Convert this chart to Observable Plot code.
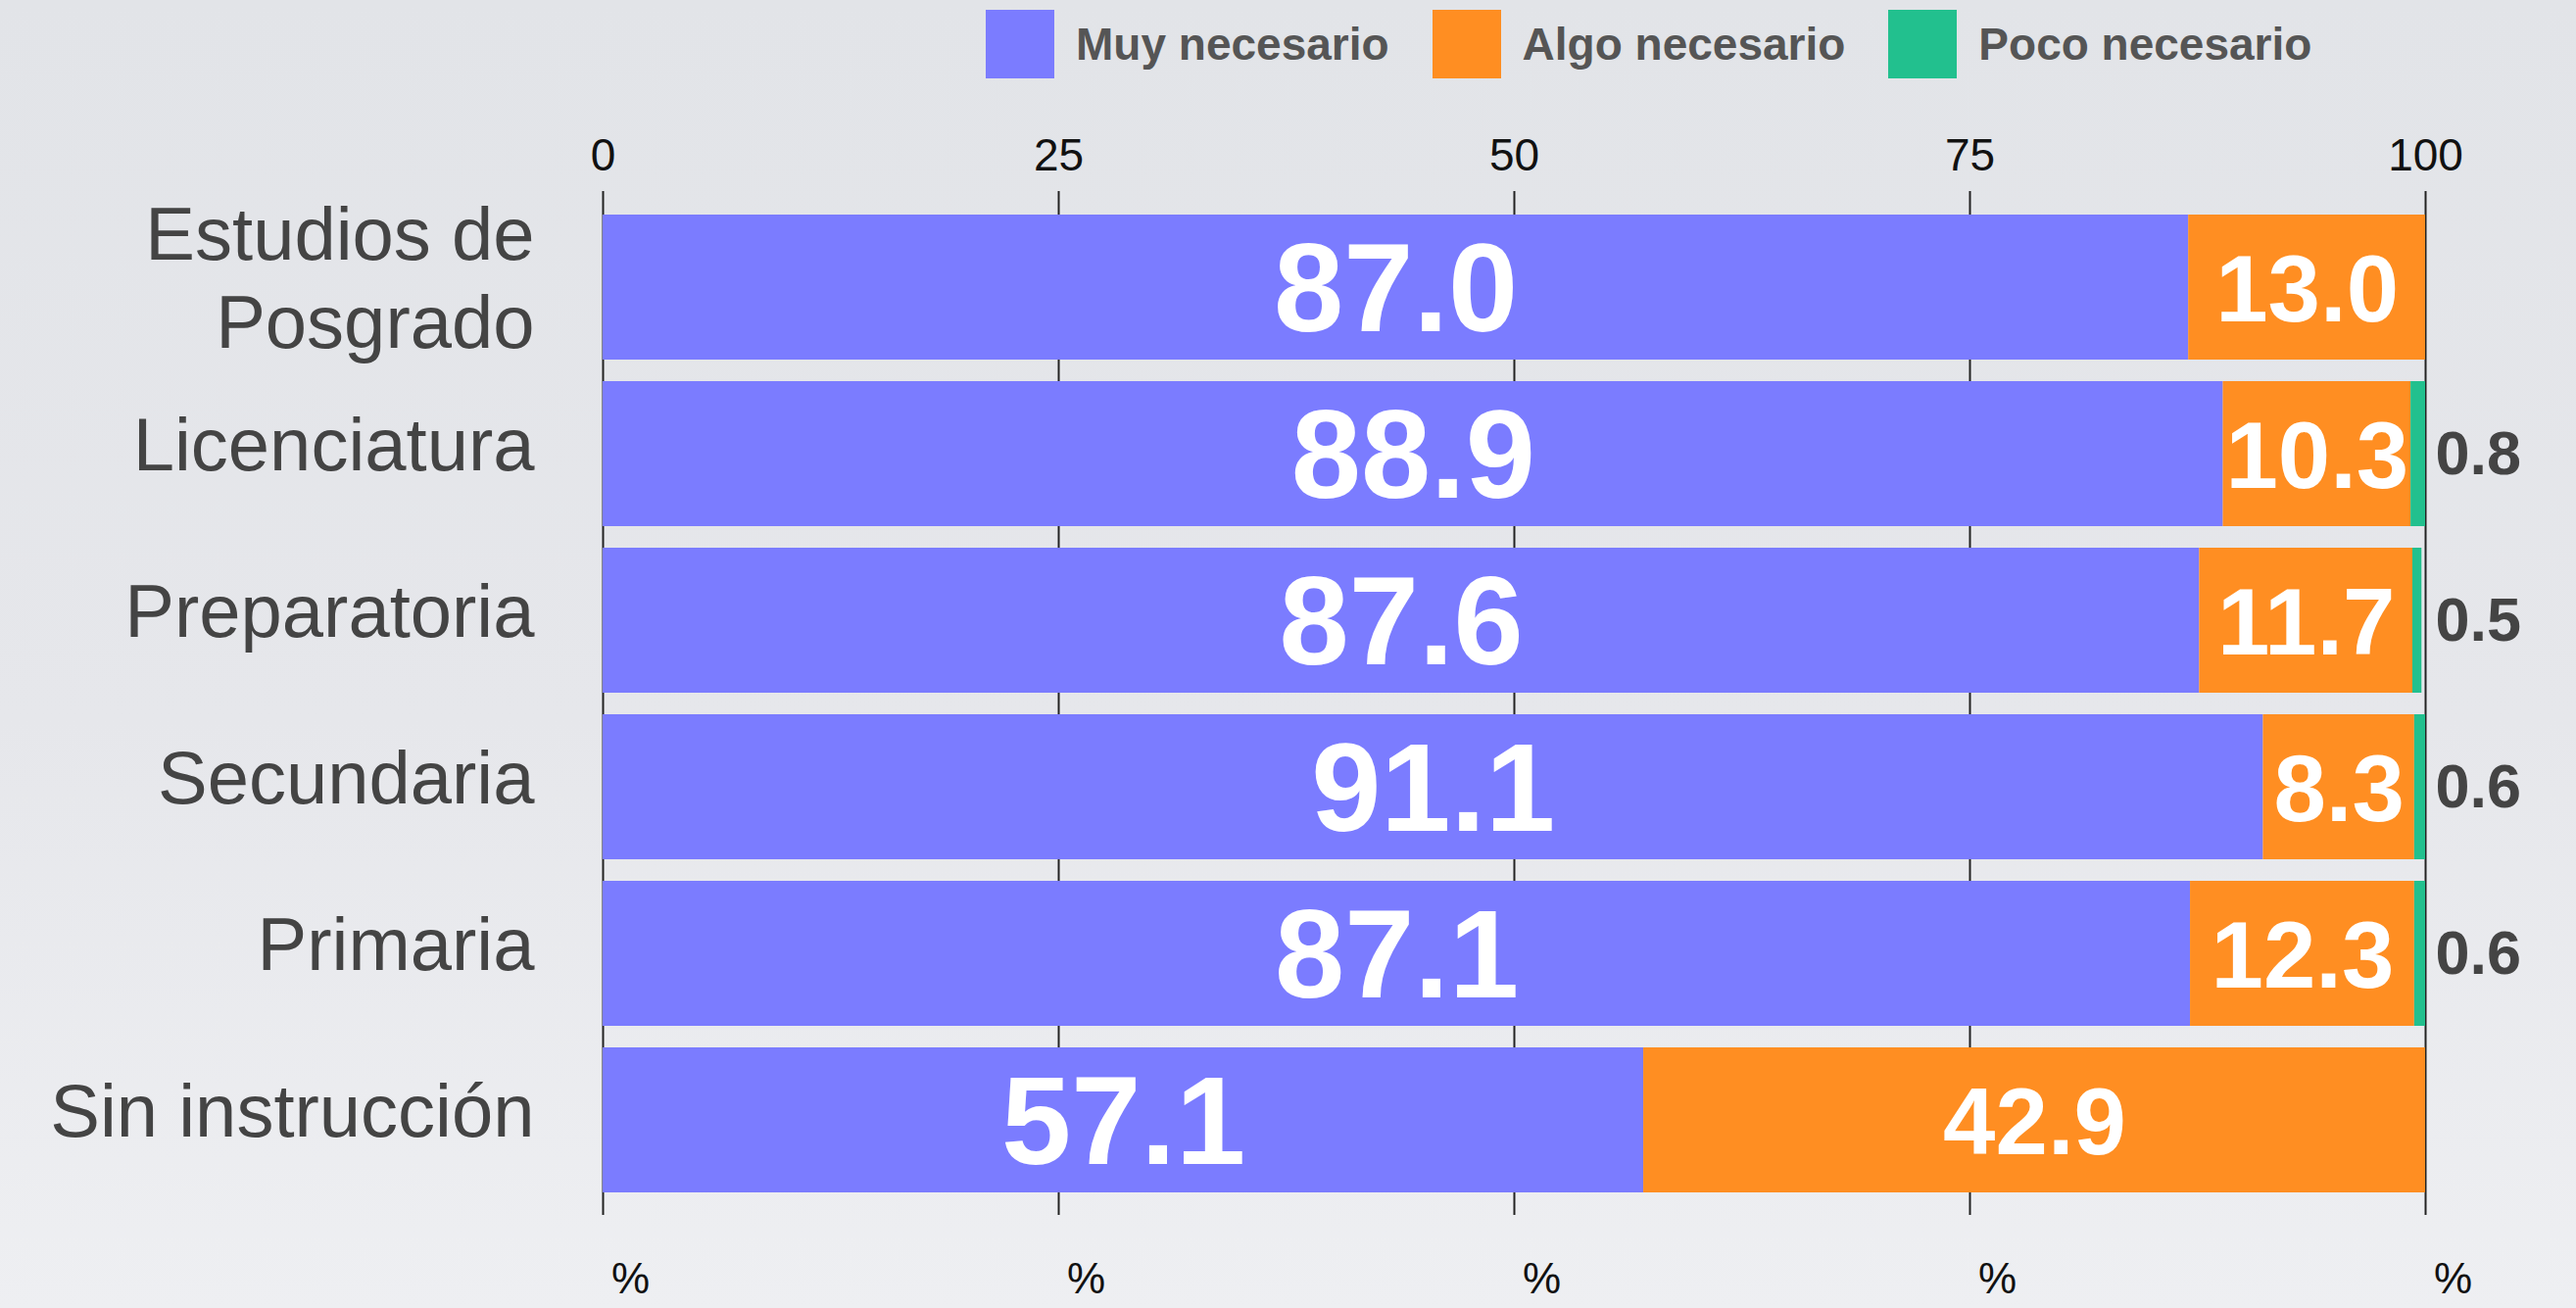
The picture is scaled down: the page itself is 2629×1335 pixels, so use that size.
<!DOCTYPE html>
<html>
<head>
<meta charset="utf-8">
<script src="https://cdn.jsdelivr.net/npm/d3@7"></script>
<script src="https://cdn.jsdelivr.net/npm/@observablehq/plot@0.6"></script>
<style>
  html, body { margin: 0; padding: 0; }
  body {
    width: 2629px; height: 1335px; overflow: hidden;
    background: linear-gradient(180deg, #e2e4e8 0%, #e6e7eb 55%, #eeeff2 100%);
    font-family: "Liberation Sans", Arial, sans-serif;
  }
  #wrap { position: relative; width: 2629px; height: 1335px; }
  #legend {
    position: absolute; top: 10px; left: 1006px;
    display: flex; align-items: center; gap: 0;
    font-family: "Liberation Sans", Arial, sans-serif; font-weight: bold;
    font-size: 46px; color: #555;
  }
  .item { display: flex; align-items: center; margin-right: 44px; }
  .sw { width: 70px; height: 70px; margin-right: 22px; }
  #chart { position: absolute; top: 0; left: 0; }
</style>
</head>
<body>
<div id="wrap">
  <div id="chart"></div>
  <div id="legend"></div>
</div>
<script>
const categories = ["Estudios de Posgrado", "Licenciatura", "Preparatoria", "Secundaria", "Primaria", "Sin instrucción"];
const seriesNames = ["Muy necesario", "Algo necesario", "Poco necesario"];
const seriesColors = ["#7b7cff", "#ff8e22", "#22c08e"];
const muyNecesario = [87.0, 88.9, 87.6, 91.1, 87.1, 57.1];
const algoNecesario = [13.0, 10.3, 11.7, 8.3, 12.3, 42.9];
const pocoNecesario = [0, 0.8, 0.5, 0.6, 0.6, 0];
const xTicks = [0, 25, 50, 75, 100];
const categoryLabels = {"Estudios de Posgrado": "Estudios de\nPosgrado"};

const rows = [];
categories.forEach((c, i) => {
  rows.push({category: c, series: seriesNames[0], value: muyNecesario[i]});
  rows.push({category: c, series: seriesNames[1], value: algoNecesario[i]});
  rows.push({category: c, series: seriesNames[2], value: pocoNecesario[i]});
});
const outside = rows.filter(d => d.series === seriesNames[2] && d.value > 0);

const stackOpts = {x: "value", y: "category", z: "series", order: seriesNames};

const chart = Plot.plot({
  width: 2629,
  height: 1335,
  marginLeft: 615,
  marginRight: 154,
  marginTop: 195,
  marginBottom: 95,
  style: {background: "transparent", fontFamily: "Liberation Sans, Arial, sans-serif"},
  x: {domain: [0, 100]},
  y: {domain: categories, padding: 0.13},
  color: {domain: seriesNames, range: seriesColors},
  marks: [
    Plot.ruleX(xTicks, {stroke: "#222", strokeWidth: 2}),
    Plot.barX(rows, Plot.stackX({...stackOpts, fill: "series"})),
    Plot.text(rows, Plot.stackX({
      ...stackOpts,
      text: d => d.series === seriesNames[0] ? d.value.toFixed(1) : null,
      fill: "white", fontSize: 128, fontWeight: "bold", dy: 4
    })),
    Plot.text(rows, Plot.stackX({
      ...stackOpts,
      text: d => d.series === seriesNames[1] ? d.value.toFixed(1) : null,
      fill: "white", fontSize: 96, fontWeight: "bold", dy: 4
    })),
    Plot.text(outside, {
      x: () => 100, y: "category", text: d => d.value.toFixed(1),
      textAnchor: "start", dx: 10, fill: "#444", fontSize: 63, fontWeight: "bold"
    }),
    Plot.axisX({anchor: "top", ticks: xTicks, tickSize: 0, tickPadding: 22, fontSize: 46, fill: "#111", label: null}),
    Plot.axisX({anchor: "bottom", ticks: xTicks, tickSize: 0, tickPadding: 48, fontSize: 44, fill: "#111", dx: 28, tickFormat: () => "%", label: null}),
    Plot.axisY({tickSize: 0, tickPadding: 70, fontSize: 76, fill: "#444", label: null,
      tickFormat: d => categoryLabels[d] || d, lineHeight: 1.18, dy: -12})
  ]
});
document.getElementById("chart").appendChild(chart);

const legend = document.getElementById("legend");
seriesNames.forEach((s, i) => {
  const it = document.createElement("div");
  it.className = "item";
  const sw = document.createElement("div");
  sw.className = "sw";
  sw.style.background = seriesColors[i];
  const t = document.createElement("span");
  t.textContent = s;
  it.appendChild(sw); it.appendChild(t);
  legend.appendChild(it);
});
</script>
</body>
</html>
